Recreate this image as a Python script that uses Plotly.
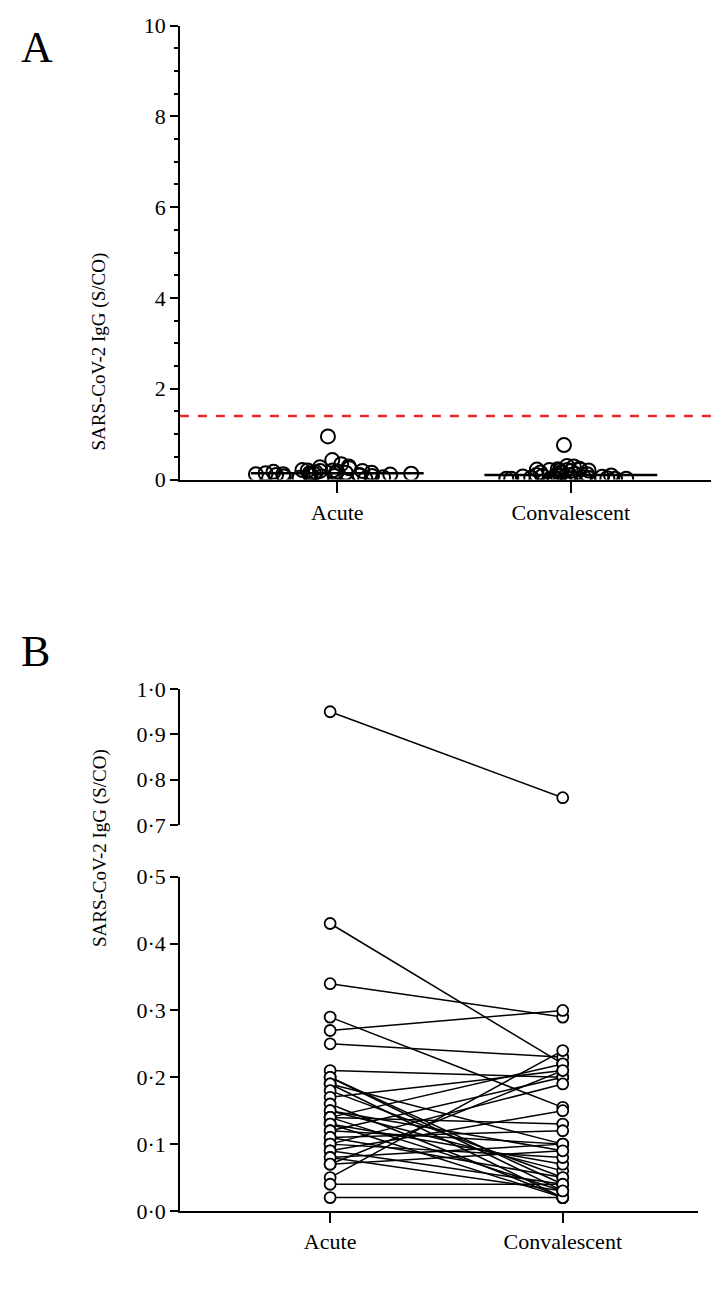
import plotly.graph_objects as go

# paired S/CO values, acute -> convalescent
acute = [0.95, 0.43, 0.34, 0.29, 0.27, 0.25, 0.05, 0.04, 0.02,
         0.21, 0.20, 0.20, 0.19, 0.19, 0.18, 0.17, 0.16, 0.15, 0.15,
         0.14, 0.14, 0.14, 0.13, 0.13, 0.12, 0.12, 0.11, 0.11, 0.10,
         0.10, 0.09, 0.09, 0.08, 0.08, 0.07, 0.07]
convalescent = [0.76, 0.22, 0.29, 0.155, 0.30, 0.23, 0.24, 0.04, 0.02,
                0.20, 0.04, 0.03, 0.02, 0.10, 0.05, 0.21, 0.02, 0.06, 0.09,
                0.03, 0.13, 0.22, 0.07, 0.02, 0.10, 0.20, 0.05, 0.12, 0.08,
                0.19, 0.04, 0.15, 0.10, 0.03, 0.21, 0.09]
groups = ["Acute", "Convalescent"]
cutoff = 1.4

font = "Liberation Serif"
W, H = 719, 1305

# correct for the page scaling seen in the render
def py(p):
    return 1 - ((p - 19.4) / 0.983) / H

def px(p):
    return ((p - 10.7) / 0.985) / W

fig = go.Figure()

# Panel A: scatter of each group
for i, vals in enumerate([acute, convalescent]):
    fig.add_trace(go.Box(
        x=[i] * len(vals), y=vals, boxpoints="all", jitter=1, pointpos=0,
        fillcolor="rgba(0,0,0,0)", line=dict(width=0, color="rgba(0,0,0,0)"),
        marker=dict(symbol="circle-open", size=14, color="black", line=dict(width=2)),
        width=0.8, showlegend=False, xaxis="x", yaxis="y"))
    med = sorted(vals)[len(vals) // 2]
    fig.add_trace(go.Scatter(x=[-0.37 + i, i + 0.37], y=[med, med], mode="lines",
                             line=dict(color="black", width=2.5),
                             showlegend=False, xaxis="x", yaxis="y"))
fig.add_trace(go.Scatter(x=[-0.674, 1.63], y=[cutoff, cutoff], mode="lines",
                         line=dict(color="#e8262b", width=2.5, dash="dash"),
                         showlegend=False, xaxis="x", yaxis="y"))

# Panel B: paired lines
for a, c in zip(acute, convalescent):
    yax = "y3" if a > 0.5 else "y2"
    fig.add_trace(go.Scatter(
        x=[0, 1], y=[a, c], mode="lines+markers",
        line=dict(color="black", width=1.5),
        marker=dict(symbol="circle", size=11, color="white",
                    line=dict(width=1.8, color="black")),
        showlegend=False, xaxis="x2", yaxis=yax))

ax = dict(showgrid=False, zeroline=False, showline=True, linecolor="black",
          linewidth=1.5, ticks="outside", tickcolor="black", tickwidth=1.5,
          tickfont=dict(family=font, size=22, color="black"))

fig.update_layout(
    width=W, height=H, margin=dict(l=0, r=0, t=0, b=0),
    plot_bgcolor="white", paper_bgcolor="white",
    xaxis=dict(ax, domain=[px(180), px(710)], range=[-0.674, 1.63],
               tickvals=[0, 1], ticktext=groups, ticklen=12, anchor="y"),
    yaxis=dict(ax, domain=[py(480), py(25)], range=[0, 10], dtick=2, ticklen=8,
               minor=dict(dtick=0.5, ticks="outside", ticklen=4, tickcolor="black"),
               anchor="x"),
    xaxis2=dict(ax, domain=[px(180), px(690)], range=[-0.646, 1.58],
                tickvals=[0, 1], ticktext=groups, ticklen=10, anchor="y2"),
    yaxis2=dict(ax, domain=[py(1213), py(878)], range=[0, 0.5],
                tickvals=[0, 0.1, 0.2, 0.3, 0.4, 0.5],
                ticktext=["0·0", "0·1", "0·2", "0·3", "0·4", "0·5"],
                ticklen=8, anchor="x2"),
    yaxis3=dict(ax, domain=[py(826), py(690)], range=[0.7, 1.0],
                tickvals=[0.7, 0.8, 0.9, 1.0],
                ticktext=["0·7", "0·8", "0·9", "1·0"],
                ticklen=8, anchor="x2"),
)

ylab = "SARS-CoV-2 IgG (S/CO)"
for text, x, y, size, ang in [("A", 22, 20, 44, 0), ("B", 22, 652, 44, 0),
                               (ylab, 88, 250, 19, -90), (ylab, 88, 950, 19, -90)]:
    fig.add_annotation(text=text, x=px(x), y=py(y), xref="paper", yref="paper",
                       showarrow=False, textangle=ang,
                       font=dict(family=font, size=size, color="black"))

fig.write_html("out.html")
